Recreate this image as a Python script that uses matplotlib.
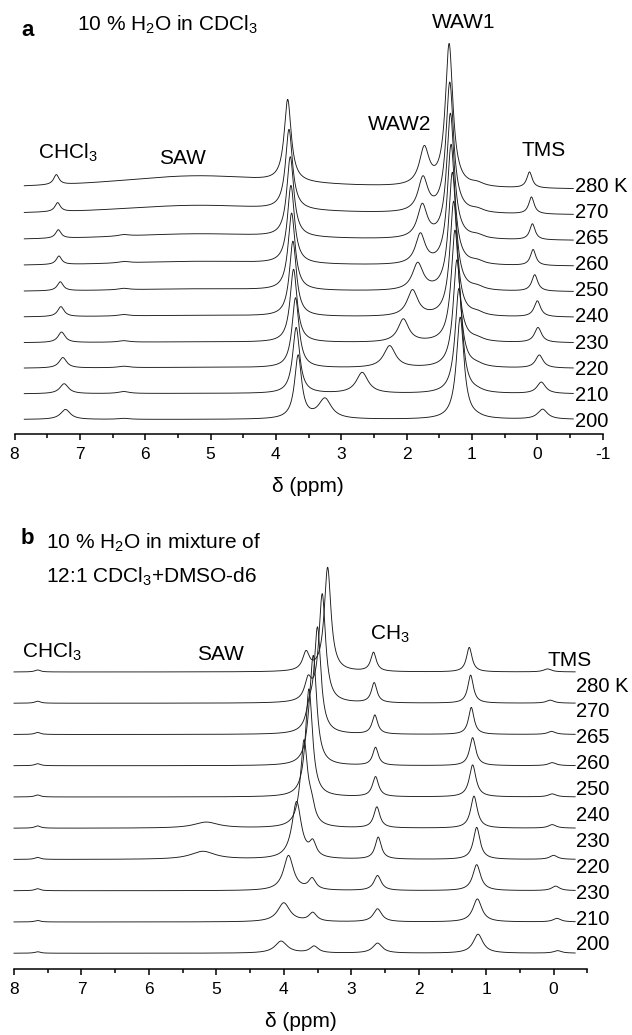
import numpy as np
import matplotlib
matplotlib.use('Agg')
import matplotlib.pyplot as plt
from matplotlib.ticker import MultipleLocator

plt.rcParams['font.family'] = ['Liberation Sans', 'DejaVu Sans']
plt.rcParams['mathtext.fontset'] = 'custom'
plt.rcParams['mathtext.rm'] = 'Liberation Sans'
plt.rcParams['mathtext.default'] = 'regular'
plt.rcParams['axes.unicode_minus'] = False

# ---- panel a: 10 % H2O in CDCl3 ----
labels_a = ['280 K', '270', '265', '260', '250', '240', '230', '220', '210', '200']

chcl3_pos_a = [7.36, 7.34, 7.33, 7.32, 7.30, 7.29, 7.28, 7.26, 7.24, 7.22]
chcl3_h_a = [10, 9, 8.5, 8.5, 9, 10, 10.5, 10.5, 10, 10]
narrow_w_a = [0.05, 0.05, 0.05, 0.05, 0.055, 0.06, 0.065, 0.07, 0.08, 0.09]

saw_pos_a = [5.2] * 10
saw_h_a = [14, 10, 7, 5, 3, 2, 1, 1, 0.5, 0]
saw_w_a = [1.7] * 10

p37_pos_a = [3.82, 3.80, 3.78, 3.77, 3.76, 3.74, 3.73, 3.70, 3.69, 3.66]
p37_h_a = [82, 80, 80, 78, 77, 75, 73, 70, 66, 63]
p37_w_a = [0.065] * 10

waw2_pos_a = [1.73, 1.75, 1.76, 1.79, 1.83, 1.91, 2.05, 2.26, 2.68, 3.25]
waw2_h_a = [37, 34, 33, 30, 27, 26, 23, 22, 21, 20]
waw2_w_a = [0.09, 0.09, 0.09, 0.09, 0.1, 0.1, 0.1, 0.11, 0.11, 0.12]

waw1_pos_a = [1.35, 1.34, 1.33, 1.32, 1.30, 1.28, 1.26, 1.23, 1.20, 1.18]
waw1_h_a = [142, 130, 125, 120, 118, 115, 112, 108, 105, 102]
waw1_w_a = [0.07] * 10

tms_pos_a = [0.12, 0.09, 0.075, 0.065, 0.04, 0.0, -0.01, -0.03, -0.06, -0.08]
tms_h_a = [16, 17, 16, 16, 16.5, 16, 15, 13, 11.5, 10]

bump_pos_a = [6.33] * 10
bump_h_a = [0, 0, 1.5, 1.5, 1.5, 1.5, 1.5, 1.5, 2, 1]
knee_pos_a = [0.92] * 10
knee_h_a = [3, 3, 3, 3, 3, 3, 2.5, 2, 1.5, 1]
knee_w_a = [0.12] * 10

peaks_a = [
    (chcl3_pos_a, chcl3_h_a, narrow_w_a),
    (saw_pos_a, saw_h_a, saw_w_a),
    (p37_pos_a, p37_h_a, p37_w_a),
    (waw2_pos_a, waw2_h_a, waw2_w_a),
    (waw1_pos_a, waw1_h_a, waw1_w_a),
    (tms_pos_a, tms_h_a, narrow_w_a),
    (bump_pos_a, bump_h_a, [0.1] * 10),
    (knee_pos_a, knee_h_a, knee_w_a),
]

# ---- panel b: 10 % H2O in 12:1 CDCl3 + DMSO-d6 ----
labels_b = ['280 K', '270', '265', '260', '250', '240', '230', '220', '230', '210', '200']

chcl3_pos_b = [7.65] * 10
chcl3_h_b = [2, 2, 2, 2, 2, 2.3, 2, 2, 1.5, 1.5]
chcl3_w_b = [0.05] * 10

saw_pos_b = [5.15, 5.15, 5.15, 5.15, 5.15, 5.15, 5.2, 5.2, 5.2, 5.2]
saw_h_b = [0, 0, 0, 0, 0, 6, 8, 0, 0, 0]
saw_w_b = [0.22] * 10

main_pos_b = [3.35, 3.43, 3.50, 3.56, 3.63, 3.70, 3.81, 3.93, 4.00, 4.04]
main_h_b = [104, 108, 104, 100, 95, 85, 57, 35, 19, 12]
main_w_b = [0.06, 0.06, 0.06, 0.06, 0.06, 0.065, 0.085, 0.09, 0.11, 0.11]

minor_pos_b = [3.67, 3.64, 3.62, 3.61, 3.60, 3.59, 3.57, 3.58, 3.57, 3.55]
minor_h_b = [18, 20, 18, 17, 16, 15, 14, 11, 8.6, 6.7]
minor_w_b = [0.06, 0.06, 0.06, 0.06, 0.06, 0.06, 0.06, 0.065, 0.07, 0.075]

ch3_pos_b = [2.67, 2.66, 2.65, 2.64, 2.64, 2.62, 2.60, 2.61, 2.61, 2.61]
ch3_h_b = [19, 20, 19, 18, 20, 21, 22, 15, 13, 10]
ch3_w_b = [0.05, 0.05, 0.05, 0.05, 0.055, 0.055, 0.055, 0.065, 0.075, 0.085]

p12_pos_b = [1.25, 1.23, 1.22, 1.20, 1.20, 1.18, 1.14, 1.14, 1.13, 1.12]
p12_h_b = [24.5, 28, 27, 28, 32, 32, 32, 26, 23, 19]
p12_w_b = [0.05, 0.05, 0.05, 0.055, 0.06, 0.06, 0.06, 0.07, 0.08, 0.087]

tms_pos_b = [0.09, 0.05, 0.03, 0.02, 0.02, 0.02, 0.0, -0.03, -0.05, -0.06]
tms_h_b = [3, 3, 3, 3, 3, 3.5, 4, 4.5, 3.5, 2.5]
tms_w_b = [0.07] * 10

peaks_b = [
    (chcl3_pos_b, chcl3_h_b, chcl3_w_b),
    (saw_pos_b, saw_h_b, saw_w_b),
    (main_pos_b, main_h_b, main_w_b),
    (minor_pos_b, minor_h_b, minor_w_b),
    (ch3_pos_b, ch3_h_b, ch3_w_b),
    (p12_pos_b, p12_h_b, p12_w_b),
    (tms_pos_b, tms_h_b, tms_w_b),
]


def lorentz(x, pos, h, w):
    return h / (1 + ((x - pos) / w) ** 2)


def spectrum(x, peaks, i):
    y = np.zeros_like(x)
    for pos, h, w in peaks:
        y += lorentz(x, pos[i], h[i], w[i])
    return y


W, H = 632, 1035
fig = plt.figure(figsize=(W / 100, H / 100), dpi=100)


def px(x, y):
    return x / W, 1 - y / H


def setup_axis(ax, ticks_px):
    for s in ['left', 'right', 'top']:
        ax.spines[s].set_visible(False)
    ax.spines['bottom'].set_linewidth(1.1)
    ax.set_yticks([])
    ax.xaxis.set_major_locator(MultipleLocator(1))
    ax.xaxis.set_minor_locator(MultipleLocator(0.5))
    ax.tick_params(axis='x', which='major', direction='out', length=4.5,
                   width=1.1, labelsize=12.5, pad=5)
    ax.tick_params(axis='x', which='minor', direction='out', length=2.8, width=1.1)
    ax.patch.set_alpha(0)
    ax.set_xlabel('δ (ppm)', fontsize=15)


# panel a axes: x axis line at y=434 px, 8 ppm at x=14.5, -1 at x=602.7
ax1 = fig.add_axes([14.5 / W, 1 - 434.3 / H, (602.7 - 14.5) / W, 434.3 / H])
ax1.set_xlim(8, -1)
ax1.set_ylim(0, 434.3)
setup_axis(ax1, None)
ax1.xaxis.set_label_coords(0.499, -0.098)

xa = np.linspace(7.85, -0.55, 3000)
for i in range(len(labels_a)):
    off = 244.3 - 25.5 * i
    ax1.plot(xa, off + spectrum(xa, peaks_a, i), color='#1a1a1a', lw=0.65, clip_on=False)

for i, lab in enumerate(labels_a):
    fig.text(*px(575, 186 + 26.2 * i), lab, fontsize=14.5, va='center', ha='left')

# panel b axes: x axis line at y=969 px, 8 ppm at x=14, -0.5 at x=587.3
ax2 = fig.add_axes([14 / W, 1 - 969.3 / H, (587.3 - 14) / W, 469.3 / H])
ax2.set_xlim(8, -0.5)
ax2.set_ylim(0, 469.3)
setup_axis(ax2, None)
ax2.xaxis.set_label_coords(0.5, -0.09)

xb = np.linspace(8.0, -0.32, 3000)
for i in range(len(main_pos_b)):
    off = 297.3 - 31.25 * i
    ax2.plot(xb, off + spectrum(xb, peaks_b, i), color='#1a1a1a', lw=0.65, clip_on=False)

for i, lab in enumerate(labels_b):
    fig.text(*px(576, 686 + 25.9 * i), lab, fontsize=14.5, va='center', ha='left')

# annotations
fs = 15
fig.text(*px(21, 31), 'a', fontsize=16, fontweight='bold', va='center')
fig.text(*px(77, 25), '10 % H$_2$O in CDCl$_3$', fontsize=fs, va='center')
fig.text(*px(464, 22), 'WAW1', fontsize=fs, va='center', ha='center')
fig.text(*px(400, 125), 'WAW2', fontsize=fs, va='center', ha='center')
fig.text(*px(38, 153), 'CHCl$_3$', fontsize=fs, va='center')
fig.text(*px(159, 159), 'SAW', fontsize=fs, va='center')
fig.text(*px(522, 150), 'TMS', fontsize=fs, va='center')

fig.text(*px(21, 538), 'b', fontsize=16, fontweight='bold', va='center')
fig.text(*px(46, 543), '10 % H$_2$O in mixture of', fontsize=fs, va='center')
fig.text(*px(46, 577), '12:1 CDCl$_3$+DMSO-d6', fontsize=fs, va='center')
fig.text(*px(370, 634), 'CH$_3$', fontsize=fs, va='center')
fig.text(*px(22, 652), 'CHCl$_3$', fontsize=fs, va='center')
fig.text(*px(197, 654), 'SAW', fontsize=fs, va='center')
fig.text(*px(548, 661), 'TMS', fontsize=fs, va='center')

fig.savefig('out.png', dpi=100)
